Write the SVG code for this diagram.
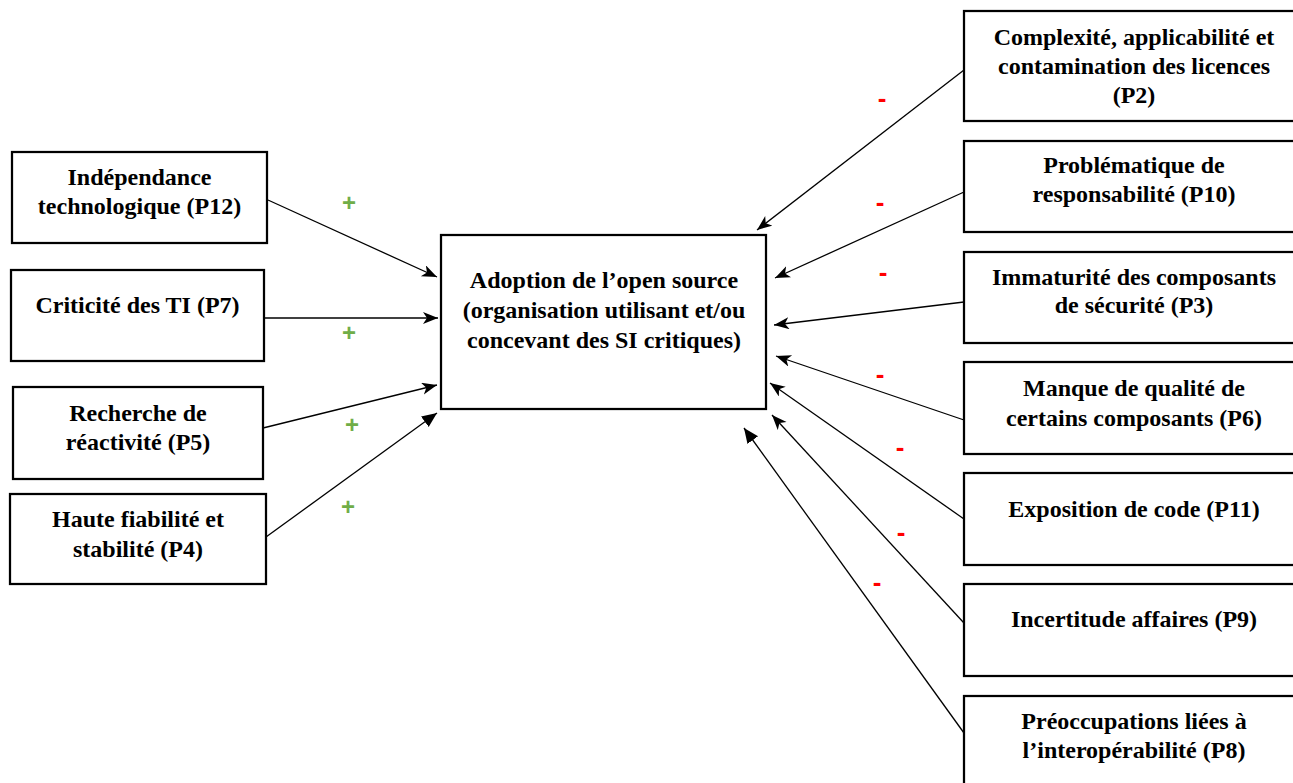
<svg xmlns="http://www.w3.org/2000/svg" width="1293" height="783" viewBox="0 0 1293 783">
<style>
.box{fill:#fff;stroke:#000;stroke-width:2.25}
.t{font-family:"Liberation Serif","Times New Roman",serif;font-weight:bold;font-size:24px;text-anchor:middle;fill:#000}
.c{fill:none;stroke:#000;stroke-width:1.3}
.plus{font-family:"Liberation Sans",Arial,sans-serif;font-weight:bold;font-size:24px;fill:#70AD47;text-anchor:middle}
.minus{font-family:"Liberation Sans",Arial,sans-serif;font-weight:bold;font-size:26px;fill:#FF0000;text-anchor:middle}
</style>
<defs>
<marker id="stealth" markerUnits="userSpaceOnUse" markerWidth="18" markerHeight="14" refX="15" refY="6" orient="auto">
<path d="M0,0 L15,6 L0,12 L4,6 z" fill="#000"/>
</marker>
<marker id="tri" markerUnits="userSpaceOnUse" markerWidth="18" markerHeight="14" refX="15" refY="6.5" orient="auto">
<path d="M0,0 L15,6.5 L0,13 z" fill="#000"/>
</marker>
</defs>
<rect width="1293" height="783" fill="#fff"/>

<g id="connectors">
<line class="c" x1="268" y1="200" x2="437" y2="277" marker-end="url(#stealth)"/>
<line class="c" x1="264" y1="318" x2="438" y2="318" marker-end="url(#stealth)"/>
<line class="c" x1="263" y1="428" x2="437" y2="385" marker-end="url(#stealth)"/>
<line class="c" x1="266" y1="537" x2="437" y2="413" marker-end="url(#tri)"/>
<line class="c" x1="964" y1="70" x2="757" y2="230" marker-end="url(#stealth)"/>
<line class="c" x1="964" y1="192" x2="775" y2="278" marker-end="url(#stealth)"/>
<line class="c" x1="964" y1="302" x2="774" y2="325" marker-end="url(#stealth)"/>
<line class="c" x1="964" y1="420" x2="776" y2="356" marker-end="url(#stealth)"/>
<line class="c" x1="964" y1="519" x2="770" y2="383" marker-end="url(#stealth)"/>
<line class="c" x1="964" y1="623" x2="772" y2="415" marker-end="url(#stealth)"/>
<line class="c" x1="964" y1="733" x2="744" y2="428" marker-end="url(#tri)"/>
</g>

<g id="signs">
<text class="plus" x="349" y="211">+</text>
<text class="plus" x="349" y="341">+</text>
<text class="plus" x="352" y="433">+</text>
<text class="plus" x="348" y="515">+</text>
<text class="minus" x="882" y="107">-</text>
<text class="minus" x="880" y="211">-</text>
<text class="minus" x="883" y="281">-</text>
<text class="minus" x="880" y="383">-</text>
<text class="minus" x="900" y="456">-</text>
<text class="minus" x="901" y="541">-</text>
<text class="minus" x="877" y="591">-</text>
</g>

<g id="center">
<rect class="box" x="441" y="235" width="325" height="174"/>
<text class="t" x="604" y="288">Adoption de l’open source</text>
<text class="t" x="604" y="318">(organisation utilisant et/ou</text>
<text class="t" x="604" y="348">concevant des SI critiques)</text>
</g>

<g id="p12">
<rect class="box" x="12" y="152" width="255" height="91"/>
<text class="t" x="139.5" y="185">Indépendance</text>
<text class="t" x="139.5" y="214">technologique (P12)</text>
</g>
<g id="p7">
<rect class="box" x="11" y="270" width="253" height="91"/>
<text class="t" x="137.5" y="313">Criticité des TI (P7)</text>
</g>
<g id="p5">
<rect class="box" x="13" y="387" width="250" height="92"/>
<text class="t" x="138" y="421">Recherche de</text>
<text class="t" x="138" y="450">réactivité (P5)</text>
</g>
<g id="p4">
<rect class="box" x="10" y="494" width="256" height="90"/>
<text class="t" x="138" y="527">Haute fiabilité et</text>
<text class="t" x="138" y="557">stabilité (P4)</text>
</g>

<g id="p2">
<rect class="box" x="964" y="11" width="341" height="110"/>
<text class="t" x="1134" y="45">Complexité, applicabilité et</text>
<text class="t" x="1134" y="74">contamination des licences</text>
<text class="t" x="1134" y="103">(P2)</text>
</g>
<g id="p10">
<rect class="box" x="964" y="141" width="341" height="91"/>
<text class="t" x="1134" y="173">Problématique de</text>
<text class="t" x="1134" y="202">responsabilité (P10)</text>
</g>
<g id="p3">
<rect class="box" x="964" y="252" width="341" height="91"/>
<text class="t" x="1134" y="285">Immaturité des composants</text>
<text class="t" x="1134" y="313">de sécurité (P3)</text>
</g>
<g id="p6">
<rect class="box" x="964" y="362" width="341" height="92"/>
<text class="t" x="1134" y="396">Manque de qualité de</text>
<text class="t" x="1134" y="426">certains composants (P6)</text>
</g>
<g id="p11">
<rect class="box" x="964" y="473" width="341" height="92"/>
<text class="t" x="1134" y="517">Exposition de code (P11)</text>
</g>
<g id="p9">
<rect class="box" x="964" y="584" width="341" height="92"/>
<text class="t" x="1134" y="627">Incertitude affaires (P9)</text>
</g>
<g id="p8">
<rect class="box" x="964" y="696" width="341" height="100"/>
<text class="t" x="1134" y="729">Préoccupations liées à</text>
<text class="t" x="1134" y="758">l’interopérabilité (P8)</text>
</g>
</svg>
